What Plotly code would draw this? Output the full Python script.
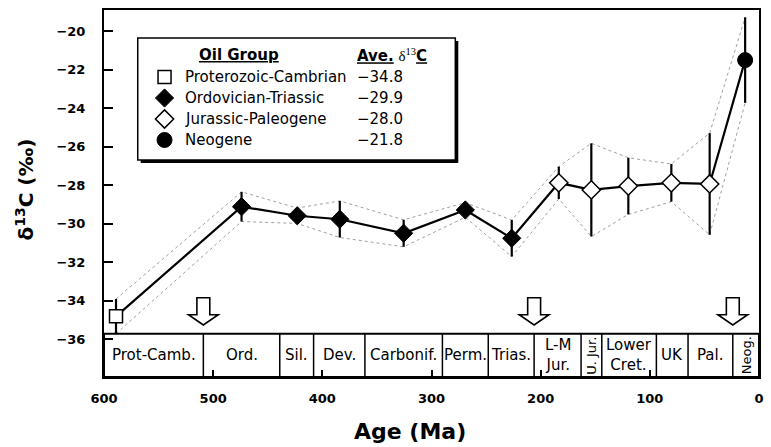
import plotly.graph_objects as go

# ---------------- data ----------------
ages = [589, 474, 423, 384, 325.5, 269, 226.5, 183.4, 153.6, 119.7, 80.3, 45.2, 12.7]
d13c = [-34.8, -29.11, -29.58, -29.76, -30.49, -29.28, -30.75, -27.87, -28.24, -28.04, -27.87, -27.93, -21.5]
d13c_err = [0.9, 0.77, 0.4, 0.95, 0.7, 0.38, 0.95, 0.84, 2.42, 1.47, 0.98, 2.64, 2.22]
point_group = [0, 1, 1, 1, 1, 1, 1, 2, 2, 2, 2, 2, 3]

group_names = ["Proterozoic-Cambrian", "Ordovician-Triassic", "Jurassic-Paleogene", "Neogene"]
group_avg = ["\u221234.8", "\u221229.9", "\u221228.0", "\u221221.8"]

period_bounds = [600, 509, 439, 408, 361, 290, 248, 206, 163, 144, 94, 65, 24, 0]
period_labels = ["Prot-Camb.", "Ord.", "Sil.", "Dev.", "Carbonif.", "Perm.", "Trias.",
                 "L-M<br>Jur.", "U. Jur.", "Lower<br>Cret.", "UK", "Pal.", "Neog."]
period_vertical = [False, False, False, False, False, False, False, False, True, False, False, False, True]
arrow_ages = [509, 206, 24]

x_ticks = [600, 500, 400, 300, 200, 100, 0]
y_ticks = [-20, -22, -24, -26, -28, -30, -32, -34, -36]
y_ticklabels = ["\u221220", "\u221222", "\u221224", "\u221226", "\u221228",
                "\u221230", "\u221232", "\u221234", "\u221236"]

# ---------------- styling ----------------
FONT = "DejaVu Sans"
W, H = 771, 447
ML, MR, MT, MB = 104, 7, 10, 70
X_RANGE = [600, 0]
Y_RANGE = [-37.95, -18.9]
BAND_TOP = -35.7

group_style = [
    dict(symbol="square", size=13, color="white", line=dict(color="black", width=1.5)),
    dict(symbol="diamond", size=14, color="black", line=dict(color="black", width=1)),
    dict(symbol="diamond", size=14, color="white", line=dict(color="black", width=1.5)),
    dict(symbol="circle", size=15, color="black", line=dict(color="black", width=1)),
]

fig = go.Figure()

upper = [v + e for v, e in zip(d13c, d13c_err)]
lower = [v - e for v, e in zip(d13c, d13c_err)]
for env in (upper, lower):
    fig.add_trace(go.Scatter(x=ages, y=env, mode="lines",
                             line=dict(color="#a0a0a0", width=1, dash="dot"),
                             hoverinfo="skip", showlegend=False))

fig.add_trace(go.Scatter(
    x=ages, y=d13c, mode="lines+markers",
    line=dict(color="black", width=2.2),
    marker=dict(
        symbol=[group_style[g]["symbol"] for g in point_group],
        size=[group_style[g]["size"] for g in point_group],
        color=[group_style[g]["color"] for g in point_group],
        opacity=1,
        line=dict(color="black", width=[group_style[g]["line"]["width"] for g in point_group]),
    ),
    error_y=dict(type="data", array=d13c_err, visible=True, color="black", thickness=2.2, width=0),
    showlegend=False,
))

shapes = []
annotations = []

# geologic time band
shapes.append(dict(type="rect", xref="x", yref="y", x0=X_RANGE[0], x1=X_RANGE[1],
                   y0=Y_RANGE[0], y1=BAND_TOP, line=dict(color="black", width=2), layer="above"))
for b in period_bounds[1:-1]:
    shapes.append(dict(type="line", xref="x", yref="y", x0=b, x1=b, y0=Y_RANGE[0], y1=BAND_TOP,
                       line=dict(color="black", width=1.5), layer="above"))
band_mid = (Y_RANGE[0] + BAND_TOP) / 2
for i, lab in enumerate(period_labels):
    xc = (period_bounds[i] + period_bounds[i + 1]) / 2
    annotations.append(dict(x=xc, y=band_mid, xref="x", yref="y", text=lab, showarrow=False,
                            textangle=-90 if period_vertical[i] else 0,
                            font=dict(family=FONT, size=15 if not period_vertical[i] else 13, color="black"),
                            align="center"))

# arrows (pixel sizes converted to data units)
px_per_ma = (W - ML - MR) / (X_RANGE[0] - X_RANGE[1])
a_top, a_sh, a_tip = -33.84, -34.72, -35.25
sw, hw = 6.5 / px_per_ma, 15 / px_per_ma
for a in arrow_ages:
    pts = [(a - sw, a_top), (a + sw, a_top), (a + sw, a_sh), (a + hw, a_sh), (a, a_tip),
           (a - hw, a_sh), (a - sw, a_sh)]
    path = "M " + " L ".join(f"{x},{y}" for x, y in pts) + " Z"
    shapes.append(dict(type="path", xref="x", yref="y", path=path,
                       line=dict(color="black", width=1.6), fillcolor="white", layer="above"))

# legend box (pixel coordinates on overlay axes)
LB = dict(x0=138, y0=38, x1=458, y1=160)
shapes.append(dict(type="rect", xref="x2", yref="y2", x0=LB["x0"] + 3, y0=LB["y0"] + 3,
                   x1=LB["x1"] + 3, y1=LB["y1"] + 3, fillcolor="black", line=dict(width=0), layer="below"))
shapes.append(dict(type="rect", xref="x2", yref="y2", **LB, fillcolor="white",
                   line=dict(color="black", width=1.5), layer="below"))

annotations.append(dict(x=240, y=55, xref="x2", yref="y2", text="<b><u>Oil Group</u></b>",
                        showarrow=False, xanchor="center", yanchor="middle",
                        font=dict(family=FONT, size=15, color="black")))
annotations.append(dict(x=357, y=55, xref="x2", yref="y2",
                        text="<b><u>Ave.</u></b> <span style='font-family:Liberation Serif'>δ<sup>13</sup></span><b><u>C</u></b>",
                        showarrow=False, xanchor="left", yanchor="middle",
                        font=dict(family=FONT, size=15, color="black")))
row_y = [77, 98, 119, 140]
for i, name in enumerate(group_names):
    annotations.append(dict(x=184, y=row_y[i], xref="x2", yref="y2", text=name, showarrow=False,
                            xanchor="left", yanchor="middle", font=dict(family=FONT, size=15, color="black")))
    annotations.append(dict(x=357, y=row_y[i], xref="x2", yref="y2", text=group_avg[i], showarrow=False,
                            xanchor="left", yanchor="middle", font=dict(family=FONT, size=15, color="black")))
    st = group_style[i]
    fig.add_trace(go.Scatter(x=[165], y=[row_y[i]], xaxis="x2", yaxis="y2", mode="markers",
                             marker=dict(symbol=st["symbol"], size=st["size"], color=st["color"],
                                         line=st["line"], opacity=1),
                             hoverinfo="skip", showlegend=False))

# axis titles
annotations.append(dict(x=(412 - ML) / (W - ML - MR), y=-(431 - (H - MB)) / (H - MT - MB),
                        xref="paper", yref="paper", text="<b>Age (Ma)</b>", showarrow=False,
                        xanchor="center", yanchor="middle", font=dict(family=FONT, size=22, color="black")))
annotations.append(dict(x=(24 - ML) / (W - ML - MR), y=((H - MB) - 190) / (H - MT - MB),
                        xref="paper", yref="paper", text="<b>δ<sup>13</sup>C (‰)</b>", showarrow=False,
                        textangle=-90, xanchor="center", yanchor="middle",
                        font=dict(family=FONT, size=20, color="black")))

fig.update_layout(
    width=W, height=H,
    margin=dict(l=ML, r=MR, t=MT, b=MB, pad=0),
    paper_bgcolor="white", plot_bgcolor="white",
    showlegend=False,
    shapes=shapes, annotations=annotations,
    xaxis=dict(range=X_RANGE, tickvals=x_ticks, ticktext=[f"<b>{t}</b>" for t in x_ticks],
               ticks="inside", ticklen=7, tickwidth=2, tickcolor="black",
               showline=True, mirror=True, linewidth=2, linecolor="black",
               showgrid=False, zeroline=False, ticklabelstandoff=8,
               tickfont=dict(family=FONT, size=13, color="black")),
    yaxis=dict(range=Y_RANGE, tickvals=y_ticks, ticktext=[f"<b>{t}</b>" for t in y_ticklabels],
               ticks="inside", ticklen=9, tickwidth=2, tickcolor="black",
               showline=True, mirror=True, linewidth=2, linecolor="black",
               showgrid=False, zeroline=False, ticklabelstandoff=14,
               tickfont=dict(family=FONT, size=13, color="black")),
    xaxis2=dict(overlaying="x", range=[ML, W - MR], visible=False, fixedrange=True),
    yaxis2=dict(overlaying="y", range=[H - MB, MT], visible=False, fixedrange=True),
)

fig.write_html("out.html", config={"displayModeBar": False},
               post_script="document.body.style.margin='0px';document.body.style.overflow='hidden';")
